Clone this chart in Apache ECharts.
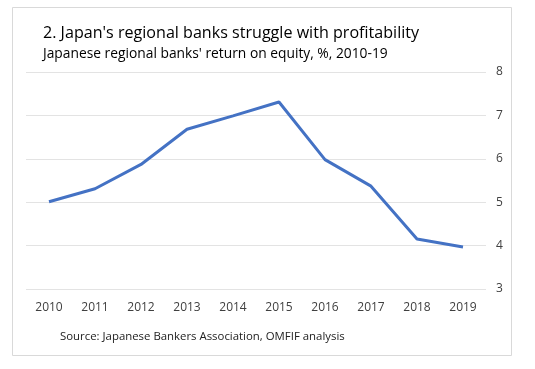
<!DOCTYPE html>
<html><head><meta charset="utf-8">
<script src="https://cdn.jsdelivr.net/npm/echarts@6/dist/echarts.min.js"></script>
<style>html,body{margin:0;padding:0;background:#fff}#c{width:535px;height:369px}</style>
</head><body><div id="c"></div>
<script>
var years = ['2010','2011','2012','2013','2014','2015','2016','2017','2018','2019'];
var roe = [5.01, 5.31, 5.87, 6.68, 6.99, 7.31, 5.98, 5.37, 4.15, 3.97];
var yTicks = [3, 8, 1];
var chart = echarts.init(document.getElementById('c'));
var F = 'Open Sans';
chart.setOption({
  animation: false,
  graphic: [{type:'rect', shape:{x:12.5,y:7.5,width:499,height:348}, style:{fill:'#fff', stroke:'#d9d9d9', lineWidth:1}, z:-1}],
  title: [
    {text: "2. Japan's regional banks struggle with profitability", left: 38, top: 20,
     textStyle:{fontFamily:F, fontSize:16.1, fontWeight:'normal', color:'#000'}},
    {text: "Japanese regional banks' return on equity, %, 2010-19", left: 38, top: 42,
     textStyle:{fontFamily:F, fontSize:13.8, fontWeight:'normal', color:'#000'}},
    {text: "Source: Japanese Bankers Association, OMFIF analysis", left: 55, top: 326,
     textStyle:{fontFamily:F, fontSize:11.4, fontWeight:'normal', color:'#222'}}
  ],
  grid: {left: 26, right: 49, top: 72, bottom: 80, containLabel: false},
  xAxis: {type:'category', data: years, boundaryGap: true,
    axisLine:{show:false}, axisTick:{show:false},
    axisLabel:{fontFamily:F, fontSize:12, color:'#404040', margin:13}},
  yAxis: {type:'value', position:'right', min: yTicks[0], max: yTicks[1], interval: yTicks[2],
    axisLine:{show:false}, axisTick:{show:false},
    splitLine:{lineStyle:{color:'#e3e3e3', width:1}},
    axisLabel:{fontFamily:F, fontSize:12, color:'#404040', margin:10}},
  series: [{type:'line', data: roe, symbol:'none', lineStyle:{color:'#4472c4', width:3}}]
});
</script></body></html>
